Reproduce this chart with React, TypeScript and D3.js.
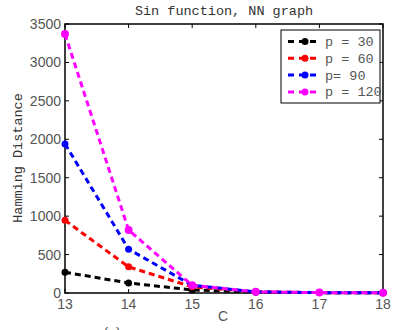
import React from "react";
import * as d3 from "d3";

const xValues = [13, 14, 15, 16, 17, 18];
const p30 = [270, 130, 40, 10, 5, 2];
const p60 = [945, 340, 80, 15, 5, 2];
const p90 = [1940, 570, 100, 15, 5, 3];
const p120 = [3370, 820, 100, 15, 5, 3];
const seriesNames = ["p = 30", "p = 60", "p= 90", "p = 120"];
const seriesColors = ["#000000", "#ff0000", "#0000ff", "#ff00ff"];
const yTicks = [0, 500, 1000, 1500, 2000, 2500, 3000, 3500];
const xTicks = [13, 14, 15, 16, 17, 18];

export default function App() {
  const W = 398, H = 330;
  const L = 65, R = 383, T = 24, B = 293;
  const x = d3.scaleLinear().domain([13, 18]).range([L, R]);
  const y = d3.scaleLinear().domain([0, 3500]).range([B, T]);
  const all = [p30, p60, p90, p120];
  const line = d3.line<number>().x((_, i) => x(xValues[i])).y((d) => y(d));
  const mono = "'Liberation Mono', 'DejaVu Sans Mono', monospace";
  const sans = "'Liberation Sans', Arial, sans-serif";
  return (
    <svg width={W} height={H} style={{ position: "absolute", left: 0, top: 0 }}>
      <rect width={W} height={H} fill="#fff" />
      <text x={224} y={15} textAnchor="middle" fontFamily={mono} fontSize={13.5} fill="#333">
        Sin function, NN graph
      </text>
      {/* axes box */}
      <path d={`M${L},${T}H${R}V${B}H${L}Z`} fill="none" stroke="#000" strokeWidth={1.5} />
      {yTicks.map((t) => (
        <g key={"y" + t}>
          <line x1={L} x2={L + 4} y1={y(t)} y2={y(t)} stroke="#000" />
          <line x1={R} x2={R - 4} y1={y(t)} y2={y(t)} stroke="#000" />
          <text x={L - 4} y={y(t) + 5} textAnchor="end" fontFamily={sans} fontSize={14} fill="#555">
            {t}
          </text>
        </g>
      ))}
      {xTicks.map((t) => (
        <g key={"x" + t}>
          <line x1={x(t)} x2={x(t)} y1={B} y2={B - 4} stroke="#000" />
          <line x1={x(t)} x2={x(t)} y1={T} y2={T + 4} stroke="#000" />
          <text x={x(t)} y={B + 16} textAnchor="middle" fontFamily={sans} fontSize={14} fill="#555">
            {t}
          </text>
        </g>
      ))}
      <text x={223} y={321} textAnchor="middle" fontFamily={sans} fontSize={14} fill="#555">C</text>
      <text transform={`translate(22,158) rotate(-90)`} textAnchor="middle" fontFamily={mono} fontSize={13.5} fill="#333">
        Hamming Distance
      </text>
      <text x={112} y={338} textAnchor="middle" fontFamily={sans} fontSize={14} fill="#555">(a)</text>
      {all.map((s, k) => (
        <g key={"s" + k}>
          <path d={line(s) || ""} fill="none" stroke={seriesColors[k]} strokeWidth={3} strokeDasharray="6,4" />
          {s.map((v, i) => (
            <circle key={i} cx={x(xValues[i])} cy={y(v)} r={k === 3 ? 4 : 3.5} fill={seriesColors[k]} />
          ))}
        </g>
      ))}
      {/* legend */}
      <rect x={281} y={30} width={99} height={73} fill="#fff" stroke="#000" strokeWidth={1} />
      {seriesNames.map((n, k) => {
        const yy = 41.5 + k * 16.8;
        return (
          <g key={"l" + k}>
            <line x1={288} x2={318} y1={yy} y2={yy} stroke={seriesColors[k]} strokeWidth={3} strokeDasharray="6,5" />
            <circle cx={305} cy={yy} r={3.5} fill={seriesColors[k]} />
            <text x={325} y={yy + 4.5} fontFamily={mono} fontSize={13.5} fill="#555">{n}</text>
          </g>
        );
      })}
    </svg>
  );
}
